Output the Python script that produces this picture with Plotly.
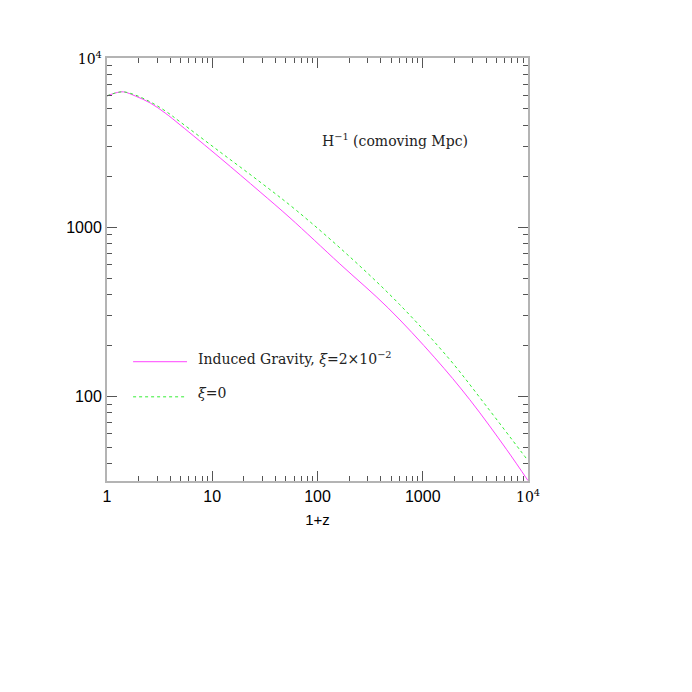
import plotly.graph_objects as go

# 1+z values and H^-1 (comoving Mpc)
z_ig = [1, 1.2, 1.43, 1.86, 2.58, 3.57, 4.96, 11.9, 28.5, 54.8, 163, 467, 1303, 2800, 6280, 10000]
h_ig = [5970, 6210, 6310, 5960, 5420, 4730, 4020, 2565, 1616, 1135, 607, 334, 169, 95.6, 48.4, 31.8]

z_0 = [1, 1.2, 1.43, 1.86, 2.58, 3.57, 4.96, 11.9, 28.5, 63.9, 203, 606, 1807, 4000, 8340, 10000]
h_0 = [5970, 6210, 6310, 6040, 5500, 4870, 4190, 2780, 1849, 1248, 668, 348, 165, 88, 48.4, 41.7]

xtick_vals = [1, 10, 100, 1000, 10000]
ytick_vals = [100, 1000, 10000]

SERIF = "DejaVu Serif"
SANS = "Liberation Sans"


def tick_text(v):
    if v == 10000:
        return "<span style='font-family:%s;font-size:14px'>10<sup>4</sup></span>" % SERIF
    return str(v)


fig = go.Figure()

fig.add_trace(go.Scatter(
    x=z_ig, y=h_ig, mode='lines',
    line=dict(color='#ff44ff', width=1, shape='spline', smoothing=1.0),
    showlegend=False
))
fig.add_trace(go.Scatter(
    x=z_0, y=h_0, mode='lines',
    line=dict(color='#33ee33', width=1, dash='dot', shape='spline', smoothing=1.0),
    showlegend=False
))

axis_common = dict(
    type='log', showgrid=False, zeroline=False,
    showline=True, linecolor='#b4b4b4', linewidth=2, mirror='allticks',
    ticks='inside', ticklen=10, tickcolor='#555555', tickwidth=1,
    minor=dict(ticks='inside', ticklen=5, tickcolor='#555555', tickwidth=1,
               dtick='D1', showgrid=False),
    tickfont=dict(family=SANS, size=16, color='black'),
)

fig.update_xaxes(
    range=[0, 4], tickvals=xtick_vals, ticktext=[tick_text(v) for v in xtick_vals],
    title=dict(text='1+z', font=dict(family=SANS, size=15, color='black'), standoff=10),
    **axis_common
)
fig.update_yaxes(
    range=[1.5, 4], tickvals=ytick_vals, ticktext=[tick_text(v) for v in ytick_vals],
    **axis_common
)

# legend drawn by hand to match the original layout
fig.add_shape(type='line', xref='paper', yref='paper', x0=0.062, x1=0.190, y0=0.282, y1=0.282,
              line=dict(color='#ff44ff', width=1))
fig.add_shape(type='line', xref='paper', yref='paper', x0=0.062, x1=0.190, y0=0.199, y1=0.199,
              line=dict(color='#33ee33', width=1, dash='dot'))

fig.add_annotation(xref='paper', yref='paper', x=0.212, y=0.290, xanchor='left', yanchor='middle',
                   text='Induced Gravity, <i>ξ</i>=2×10<sup>−2</sup>', showarrow=False,
                   font=dict(family=SERIF, size=14, color='#222222'))
fig.add_annotation(xref='paper', yref='paper', x=0.212, y=0.207, xanchor='left', yanchor='middle',
                   text='<i>ξ</i>=0', showarrow=False,
                   font=dict(family=SERIF, size=14, color='#222222'))
fig.add_annotation(xref='paper', yref='paper', x=0.684, y=0.806, xanchor='center', yanchor='middle',
                   text='H<sup>−1</sup> (comoving Mpc)', showarrow=False,
                   font=dict(family=SERIF, size=14, color='#222222'))

# the page body adds an 8px offset, so margins are shifted to compensate
fig.update_layout(
    width=692, height=692,
    margin=dict(l=99, r=172, t=50, b=219),
    paper_bgcolor='white', plot_bgcolor='white',
)

fig.write_html("out.html")
